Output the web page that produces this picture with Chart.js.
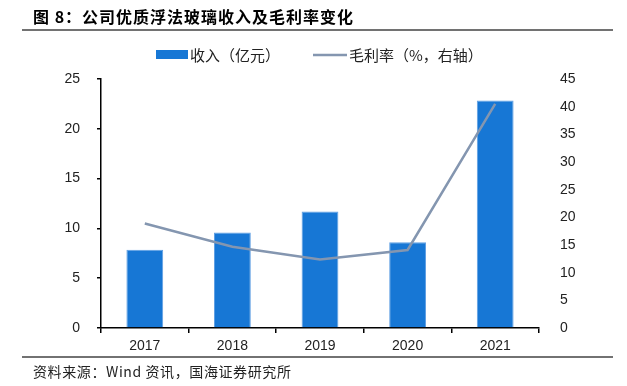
<!DOCTYPE html>
<html>
<head>
<meta charset="utf-8">
<script src="https://cdn.jsdelivr.net/npm/chart.js@4/dist/chart.umd.min.js"></script>
<style>
  html, body { margin: 0; padding: 0; background: #fff; }
  #wrap { width: 627px; height: 386px; position: relative; }
</style>
</head>
<body>
<div id="wrap"><canvas id="myChart" width="627" height="386"></canvas></div>
<script>
var years = ['2017', '2018', '2019', '2020', '2021'];
var revenue = [7.85, 9.6, 11.7, 8.6, 22.85];       // 收入（亿元）
var grossMargin = [18.9, 14.7, 12.4, 14.1, 40.5];  // 毛利率（%）
var leftTicks = [0, 5, 10, 15, 20, 25];
var rightTicks = [0, 5, 10, 15, 20, 25, 30, 35, 40, 45];

var titleText = '图 8：公司优质浮法玻璃收入及毛利率变化';
var sourceText = '资料来源：Wind 资讯，国海证券研究所';
var barLabel = '收入（亿元）';
var lineLabel = '毛利率（%，右轴）';

var barColor = '#1777d5';
var lineColor = '#8496b0';
var cjk = '"Noto Sans CJK SC", "Liberation Sans", sans-serif';
var num = '"Liberation Sans", Arial, sans-serif';

// title, separator lines, legend and source note
var decor = {
    id: 'decor',
    afterDraw: function (chart) {
        var ctx = chart.ctx;
        ctx.save();
        ctx.fillStyle = '#000';
        ctx.font = 'bold 16px ' + cjk;
        ctx.letterSpacing = '1px';
        ctx.textBaseline = 'middle';
        ctx.fillText(titleText, 33, 17);
        ctx.letterSpacing = '0px';

        ctx.strokeStyle = '#444';
        ctx.lineWidth = 1.5;
        ctx.beginPath();
        ctx.moveTo(22, 30); ctx.lineTo(613, 30);
        ctx.moveTo(22, 357); ctx.lineTo(613, 357);
        ctx.stroke();

        // legend
        ctx.fillStyle = barColor;
        ctx.fillRect(156, 50, 32, 9);
        ctx.fillStyle = '#222';
        ctx.font = '15px ' + cjk;
        ctx.fillText(barLabel, 190, 55);
        ctx.strokeStyle = lineColor;
        ctx.lineWidth = 2.5;
        ctx.beginPath();
        ctx.moveTo(313, 55); ctx.lineTo(347, 55);
        ctx.stroke();
        ctx.font = '15px ' + cjk;
        ctx.fillText(lineLabel, 349, 55);

        ctx.font = '14px ' + cjk;
        ctx.letterSpacing = '0.6px';
        ctx.fillStyle = '#222';
        ctx.fillText(sourceText, 33, 372);
        ctx.restore();
    }
};

new Chart('myChart', {
    data: {
        labels: years,
        datasets: [{
            type: 'line',
            label: lineLabel,
            data: grossMargin,
            yAxisID: 'y1',
            borderColor: lineColor,
            borderWidth: 2.5,
            pointRadius: 0,
            tension: 0,
            order: 0
        }, {
            type: 'bar',
            label: barLabel,
            data: revenue,
            yAxisID: 'y',
            backgroundColor: barColor,
            borderColor: '#5f9fe3',
            borderWidth: 1,
            categoryPercentage: 1,
            barPercentage: 0.42,
            order: 1
        }]
    },
    options: {
        responsive: false,
        animation: false,
        layout: { padding: { top: 79, left: 0, right: 0, bottom: 0 } },
        plugins: {
            legend: { display: false },
            title: { display: false },
            tooltip: { enabled: false }
        },
        scales: {
            x: {
                offset: true,
                grid: { offset: true, drawOnChartArea: false, drawTicks: true, tickLength: 5, color: '#000', lineWidth: 1.5 },
                border: { display: true, color: '#000', width: 1.5 },
                ticks: { color: '#222', font: { family: num, size: 14 }, padding: 5 },
                afterFit: function (s) { s.height = 58; }
            },
            y: {
                position: 'left',
                min: 0,
                max: 25,
                afterBuildTicks: function (s) { s.ticks = leftTicks.map(function (v) { return { value: v }; }); },
                grid: { drawOnChartArea: false, drawTicks: true, tickLength: 4, color: '#000', lineWidth: 1.5 },
                border: { display: true, color: '#000', width: 1.5 },
                ticks: { color: '#222', font: { family: num, size: 14 }, padding: 17 },
                afterFit: function (s) { s.width = 101; }
            },
            y1: {
                position: 'right',
                min: 0,
                max: 45,
                afterBuildTicks: function (s) { s.ticks = rightTicks.map(function (v) { return { value: v }; }); },
                grid: { display: false, drawOnChartArea: false },
                border: { display: false },
                ticks: { color: '#222', font: { family: num, size: 14 }, padding: 13 },
                afterFit: function (s) { s.width = 88; }
            }
        }
    },
    plugins: [decor]
});
</script>
</body>
</html>
